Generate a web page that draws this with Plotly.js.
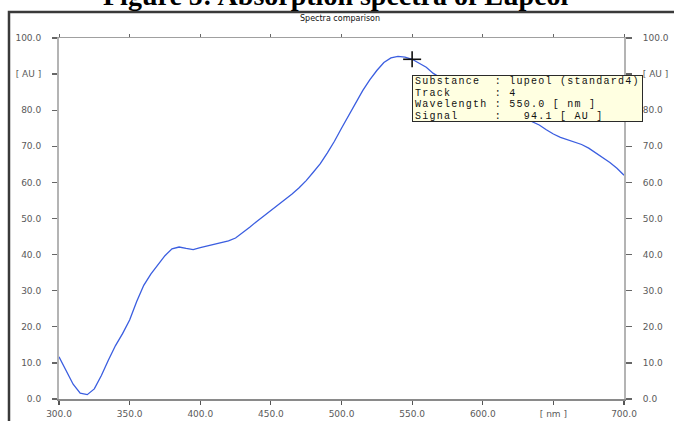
<!DOCTYPE html>
<html>
<head>
<meta charset="utf-8">
<script src="https://cdn.plot.ly/plotly-3.0.1.min.js"></script>
<style>
  html, body { margin: 0; padding: 0; background: #ffffff; }
  #chart { width: 674px; height: 421px; }
</style>
</head>
<body>
<div id="chart"></div>
<script>
// Absorption spectrum of lupeol (standard, track 4)
const wavelengths = [
  300, 305, 310, 315, 320, 325, 330, 335, 340, 345,
  350, 355, 360, 365, 370, 375, 380, 385, 390, 395,
  400, 405, 410, 415, 420, 425, 430, 435, 440, 445,
  450, 455, 460, 465, 470, 475, 480, 485, 490, 495,
  500, 505, 510, 515, 520, 525, 530, 535, 540, 545,
  550, 555, 560, 565, 570, 575, 580, 585, 590, 595,
  600, 605, 610, 615, 620, 625, 630, 635, 640, 645,
  650, 655, 660, 665, 670, 675, 680, 685, 690, 695,
  700
];
const signal = [
  11.7, 7.9, 4.1, 1.6, 1.2, 2.8, 6.5, 10.8, 14.8, 18.1,
  21.9, 27.0, 31.5, 34.6, 37.3, 39.7, 41.6, 42.1, 41.7, 41.4,
  41.9, 42.4, 42.9, 43.3, 43.8, 44.6, 46.0, 47.6, 49.2, 50.7,
  52.1, 53.6, 55.2, 56.8, 58.5, 60.5, 62.8, 65.2, 68.2, 71.4,
  75.0, 78.6, 82.2, 85.4, 88.4, 91.0, 93.2, 94.5, 94.9, 94.7,
  94.1, 93.1, 91.9, 90.2, 88.9, 87.8, 86.8, 85.9, 85.0, 84.1,
  83.2, 82.3, 81.4, 80.5, 79.6, 78.7, 77.9, 77.0, 75.9, 74.6,
  73.4, 72.5, 71.8, 71.2, 70.5, 69.5, 68.2, 66.9, 65.5, 63.9,
  62.0
];

const xTickVals = [300, 350, 400, 450, 500, 550, 600, 650, 700];
const xTickText = ['300.0', '350.0', '400.0', '450.0', '500.0', '550.0', '600.0', '[ nm ]', '700.0'];
const yTickVals = [0, 10, 20, 30, 40, 50, 60, 70, 80, 90, 100];
const yTickText = ['0.0', '10.0', '20.0', '30.0', '40.0', '50.0', '60.0', '70.0', '80.0', '[ AU ]', '100.0'];

// Cursor readout
const substance = 'lupeol (standard4)';
const track = 4;
const cursorIndex = wavelengths.indexOf(550);
const cursorWavelength = wavelengths[cursorIndex];
const cursorSignal = signal[cursorIndex];

const NB = '\u00A0';
const pad = (s, n) => s + NB.repeat(Math.max(0, n - s.length));
const padLeft = (s, n) => NB.repeat(Math.max(0, n - s.length)) + s;
const readoutRows = [
  pad('Substance', 11) + ':' + NB + substance,
  pad('Track', 11) + ':' + NB + String(track),
  pad('Wavelength', 11) + ':' + NB + cursorWavelength.toFixed(1) + NB + '[' + NB + 'nm' + NB + ']',
  pad('Signal', 11) + ':' + NB + padLeft(cursorSignal.toFixed(1), 6) + NB + '[' + NB + 'AU' + NB + ']'
];
const rowStep = 11.5;

const labelFont = { family: 'DejaVu Sans, Arial, sans-serif', size: 9, color: '#5a5a5a' };

const trace = {
  x: wavelengths,
  y: signal,
  type: 'scatter',
  mode: 'lines',
  line: { color: '#3b5ee0', width: 1.3 },
  hoverinfo: 'skip',
  showlegend: false
};

// Second invisible trace hooks the right and top axes
const mirrorTrace = {
  x: [wavelengths[0]], y: [signal[0]],
  xaxis: 'x2', yaxis: 'y2',
  type: 'scatter', mode: 'markers',
  marker: { opacity: 0 }, hoverinfo: 'skip', showlegend: false
};

const annotations = [
  {
    text: '<b>Figure 5: Absorption spectra of Lupeol</b>',
    xref: 'paper', yref: 'paper', x: 0.49, y: 1.0679,
    xanchor: 'center', yanchor: 'bottom', showarrow: false,
    font: { family: 'Liberation Serif, Times New Roman, serif', size: 28, color: '#000' }
  },
  {
    text: 'Spectra comparison',
    xref: 'paper', yref: 'paper', x: 0.497, y: 1.0527,
    xanchor: 'center', yanchor: 'middle', showarrow: false,
    font: { family: 'DejaVu Sans, Arial, sans-serif', size: 8, color: '#111' }
  },
  // Readout panel background
  {
    text: NB,
    x: cursorWavelength, y: cursorSignal, xref: 'x', yref: 'y',
    xanchor: 'left', yanchor: 'top', xshift: 0, yshift: -15.5,
    width: 229, height: 45, showarrow: false,
    bgcolor: '#ffffe1', bordercolor: '#2a2a2a', borderwidth: 1, borderpad: 0,
    font: { size: 8 }
  }
];
readoutRows.forEach((row, i) => {
  annotations.push({
    text: '<span style="letter-spacing:1.25px">' + row + '</span>',
    x: cursorWavelength, y: cursorSignal, xref: 'x', yref: 'y',
    xanchor: 'left', yanchor: 'middle', xshift: 2, yshift: -(22.5 + i * rowStep),
    showarrow: false, borderpad: 0,
    font: { family: 'Liberation Mono, DejaVu Sans Mono, monospace', size: 10, color: '#111' }
  });
});

const shapes = [
  // Outer frame of the figure
  {
    type: 'path', xref: 'paper', yref: 'paper',
    path: 'M -0.0885,-0.08 L -0.0885,1.0720 L 1.12,1.0720',
    line: { color: '#3a3a3a', width: 2.5 }
  },
  // Crosshair cursor at the readout position
  {
    type: 'line', xref: 'x', yref: 'y',
    xsizemode: 'pixel', xanchor: cursorWavelength, x0: -9, x1: 9,
    ysizemode: 'pixel', yanchor: cursorSignal, y0: 0, y1: 0,
    line: { color: '#111', width: 1.6 }
  },
  {
    type: 'line', xref: 'x', yref: 'y',
    xsizemode: 'pixel', xanchor: cursorWavelength, x0: 0, x1: 0,
    ysizemode: 'pixel', yanchor: cursorSignal, y0: -8, y1: 8,
    line: { color: '#111', width: 1.6 }
  }
];

const layout = {
  width: 674, height: 421,
  margin: { l: 59, r: 50, t: 38, b: 22, pad: 0 },
  paper_bgcolor: '#ffffff', plot_bgcolor: '#ffffff',
  showlegend: false,
  xaxis: {
    range: [300, 700], fixedrange: true,
    tickmode: 'array', tickvals: xTickVals, ticktext: xTickText,
    ticks: 'outside', ticklen: 4, tickwidth: 1.2, tickcolor: '#555',
    showline: true, linecolor: '#8a8a8a', linewidth: 2,
    showgrid: false, zeroline: false,
    tickfont: labelFont, ticklabelstandoff: 1
  },
  xaxis2: {
    range: [300, 700], overlaying: 'x', side: 'top', fixedrange: true,
    tickmode: 'array', tickvals: xTickVals, showticklabels: false,
    ticks: 'outside', ticklen: 3, tickwidth: 1, tickcolor: '#666',
    showline: true, linecolor: '#a0a0a0', linewidth: 1,
    showgrid: false, zeroline: false
  },
  yaxis: {
    range: [0, 100], fixedrange: true,
    tickmode: 'array', tickvals: yTickVals, ticktext: yTickText,
    ticks: 'outside', ticklen: 5, tickwidth: 1.4, tickcolor: '#666',
    showline: true, linecolor: '#b4b4b4', linewidth: 2,
    showgrid: false, zeroline: false,
    tickfont: labelFont, ticklabelstandoff: 9
  },
  yaxis2: {
    range: [0, 100], overlaying: 'y', side: 'right', fixedrange: true,
    tickmode: 'array', tickvals: yTickVals, ticktext: yTickText,
    ticks: 'outside', ticklen: 6, tickwidth: 1.4, tickcolor: '#666',
    showline: true, linecolor: '#b4b4b4', linewidth: 2,
    showgrid: false, zeroline: false,
    tickfont: labelFont, ticklabelstandoff: 9
  },
  annotations: annotations,
  shapes: shapes
};

Plotly.newPlot('chart', [trace, mirrorTrace], layout, { displayModeBar: false, staticPlot: true });
</script>
</body>
</html>
